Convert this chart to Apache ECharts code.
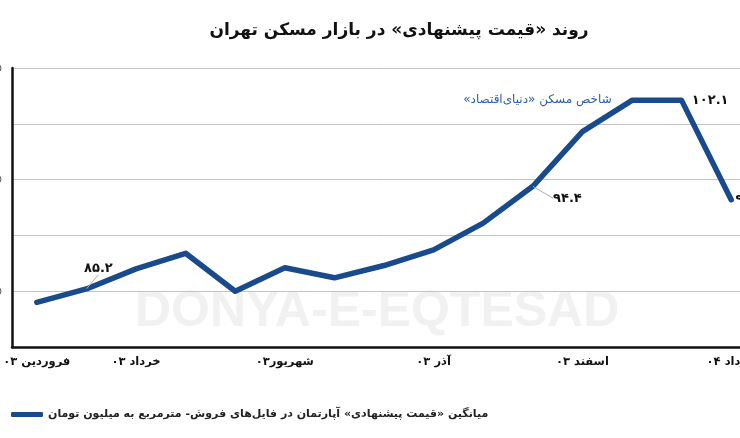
<!DOCTYPE html>
<html><head><meta charset="utf-8">
<script src="https://cdn.jsdelivr.net/npm/echarts@6/dist/echarts.min.js"></script>
<style>html,body{margin:0;padding:0;background:#fff}#c{width:740px;height:438px}</style>
</head><body><div id="c"></div>
<script>
const months = ['فروردین ۰۳','اردیبهشت ۰۳','خرداد ۰۳','تیر ۰۳','مرداد ۰۳','شهریور۰۳','مهر ۰۳','آبان ۰۳','آذر ۰۳','دی ۰۳','بهمن ۰۳','اسفند ۰۳','فروردین ۰۴','اردیبهشت ۰۴','خرداد ۰۴'];
const shownLabels = [0, 2, 5, 8, 11, 14];
const prices = [84.0, 85.2, 87.0, 88.4, 85.0, 87.1, 86.2, 87.3, 88.7, 91.1, 94.4, 99.3, 102.1, 102.1, 93.2];
const seriesName = 'میانگین «قیمت پیشنهادی» آپارتمان در فایل‌های فروش- مترمربع به میلیون تومان';
const indexName = 'شاخص مسکن «دنیای‌اقتصاد»';
const titleText = 'روند «قیمت پیشنهادی» در بازار مسکن تهران';
const yTicks = [80, 85, 90, 95, 100, 105];

const fa = s => String(s).replace(/[0-9]/g, d => '۰۱۲۳۴۵۶۷۸۹'[d]);
const rtl = s => '\u200F' + s + '\u200F';
const FONT = '"DejaVu Sans", sans-serif';
const BLUE = '#184a8c';

const labelCfg = {
  1: {position: 'top', distance: 8},
  10: {position: 'right', distance: 6},
  13: {position: 'right', distance: 10},
  14: {position: 'right', distance: 4}
};
const data = prices.map((v, i) => {
  const item = {value: v};
  if (labelCfg[i]) {
    item.label = Object.assign({show: true, formatter: p => fa(p.value.toFixed(1)), color: '#111', fontWeight: 'bold', fontSize: 13, fontFamily: FONT}, labelCfg[i]);
    if (i === 1 || i === 10) item.labelLine = {show: true, lineStyle: {color: '#aaa', width: 1}};
  }
  if (i === 12) {
    item.label = {show: true, position: 'left', distance: 20, formatter: rtl(indexName), color: '#2a5ea8', fontSize: 12, fontFamily: FONT};
  }
  return item;
});

const chart = echarts.init(document.getElementById('c'), null, {renderer: 'canvas'});
chart.setOption({
  backgroundColor: '#fff',
  animation: false,
  title: {text: rtl(titleText), left: 394, top: 17, textAlign: 'center',
    textStyle: {fontSize: 17, fontWeight: 'bold', color: '#111', fontFamily: FONT}},
  graphic: [{type: 'text', left: 135, top: 287, z: -10, silent: true,
    style: {text: 'DONYA-E-EQTESAD', fontSize: 50, fontWeight: 'bold', fill: '#f1f1f1', fontFamily: '"Liberation Sans", sans-serif'}}],
  legend: {left: 6, top: 404, itemWidth: 32, itemHeight: 5, itemGap: 4,
    icon: 'roundRect',
    itemStyle: {color: BLUE, opacity: 1},
    formatter: n => rtl(n),
    textStyle: {fontSize: 11, fontWeight: 'bold', color: '#222', fontFamily: FONT},
    data: [seriesName]},
  grid: {left: 12, right: -16, top: 68, bottom: 91, containLabel: false, outerBoundsMode: 'none'},
  xAxis: {type: 'category', data: months, boundaryGap: true,
    axisLine: {lineStyle: {color: '#111', width: 2.5}},
    axisTick: {show: false},
    axisLabel: {interval: (i) => shownLabels.includes(i), margin: 9, color: '#111', fontSize: 11.5, fontWeight: 'bold', fontFamily: FONT}},
  yAxis: {type: 'value', min: yTicks[0], max: yTicks[yTicks.length - 1], interval: 5,
    axisLine: {show: true, lineStyle: {color: '#111', width: 2.5}},
    axisTick: {show: false},
    axisLabel: {margin: 10, color: '#555', fontSize: 11, formatter: v => fa(v), fontFamily: FONT},
    splitLine: {lineStyle: {color: '#c4c4c4', width: 1}}},
  series: [{
    name: seriesName, type: 'line', data: data, showSymbol: true, symbol: 'circle', symbolSize: 0.5,
    lineStyle: {color: BLUE, width: 5.5, cap: 'round', join: 'round'},
    itemStyle: {color: BLUE},
    label: {show: false},
    labelLayout: (p) => {
      if (p.dataIndex === 1) return {dx: 12, dy: -6};
      if (p.dataIndex === 10) return {dx: 14, dy: 12};
      return {};
    }
  }]
});
</script></body></html>
